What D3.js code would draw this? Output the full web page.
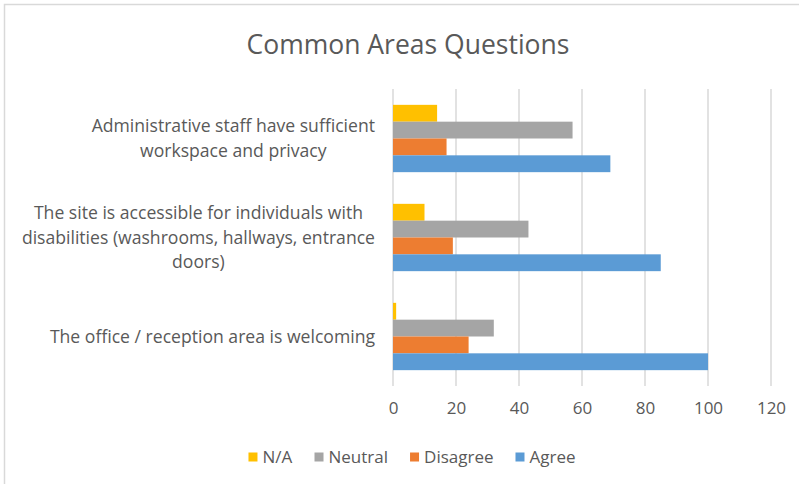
<!DOCTYPE html>
<html>
<head>
<meta charset="utf-8">
<script src="https://cdn.jsdelivr.net/npm/d3@7"></script>
<style>
  body { margin: 0; background: #fff; }
  svg { display: block; }
</style>
</head>
<body>
<svg id="chart"></svg>
<script>
// data
const categories = [
  "Administrative staff have sufficient workspace and privacy",
  "The site is accessible for individuals with disabilities (washrooms, hallways, entrance doors)",
  "The office / reception area is welcoming"
];
// how each label wraps in the reference
const labelLines = [
  ["Administrative staff have sufficient", "workspace and privacy"],
  ["The site is accessible for individuals with", "disabilities (washrooms, hallways, entrance", "doors)"],
  ["The office / reception area is welcoming"]
];
const seriesNames = ["N/A", "Neutral", "Disagree", "Agree"];
const naValues       = [14, 10, 1];
const neutralValues  = [57, 43, 32];
const disagreeValues = [17, 19, 24];
const agreeValues    = [69, 85, 100];
const xTicks = [0, 20, 40, 60, 80, 100, 120];

const seriesValues = [naValues, neutralValues, disagreeValues, agreeValues];
const colors = ["#FFC000", "#A5A5A5", "#ED7D31", "#5B9BD5"];

const w = 799, h = 484;
const textColor = "#595959";
const font = "'Open Sans', sans-serif";
const plot = { left: 393, right: 771, top: 89, bottom: 386 };

const svg = d3.select("#chart").attr("width", w).attr("height", h);

// chart frame (only top / left edges visible in the reference)
svg.append("rect")
  .attr("x", 4.5).attr("y", 4.5)
  .attr("width", w + 10).attr("height", h + 10)
  .attr("fill", "#fff")
  .attr("stroke", "#d9d9d9")
  .attr("stroke-width", 1.5);

const x = d3.scaleLinear().domain([0, 120]).range([plot.left, plot.right]);

const y0 = d3.scaleBand()
  .domain(categories)
  .range([plot.top, plot.bottom])
  .paddingInner(0.32)
  .paddingOuter(0.16);

const y1 = d3.scaleBand()
  .domain(seriesNames)
  .range([0, y0.bandwidth()]);

// title
svg.append("text")
  .attr("x", 408).attr("y", 45)
  .attr("dy", "0.35em")
  .attr("text-anchor", "middle")
  .attr("font-family", font)
  .attr("font-size", "26.5px")
  .attr("fill", textColor)
  .text("Common Areas Questions");

// gridlines
svg.append("g")
  .selectAll("line")
  .data(xTicks)
  .join("line")
  .attr("x1", d => x(d)).attr("x2", d => x(d))
  .attr("y1", plot.top).attr("y2", plot.bottom)
  .attr("stroke", "#d9d9d9")
  .attr("stroke-width", 1.5);

// x axis tick labels
const xAxis = svg.append("g")
  .attr("transform", `translate(0,${plot.bottom})`)
  .call(d3.axisBottom(x).tickValues(xTicks).tickSize(0).tickPadding(16));
xAxis.select(".domain").remove();
xAxis.selectAll("text")
  .attr("font-family", font)
  .attr("font-size", "17px")
  .attr("fill", textColor);

// bars
const groups = svg.append("g")
  .selectAll("g")
  .data(categories)
  .join("g")
  .attr("transform", d => `translate(0,${y0(d)})`);

groups.selectAll("rect")
  .data((c, ci) => seriesNames.map((s, si) => ({ s, v: seriesValues[si][ci], color: colors[si] })))
  .join("rect")
  .attr("x", x(0))
  .attr("y", d => y1(d.s))
  .attr("width", d => x(d.v) - x(0))
  .attr("height", y1.bandwidth())
  .attr("fill", d => d.color);

// category labels, wrapped lines centred as a block right of the plot
const labelRight = 375, lineHeight = 24.5;
categories.forEach((c, ci) => {
  const lines = labelLines[ci];
  const cy = y0(c) + y0.bandwidth() / 2;
  const t = svg.append("text")
    .attr("font-family", font)
    .attr("font-size", "17.6px")
    .attr("fill", textColor)
    .attr("text-anchor", "middle");
  const spans = lines.map((l, li) =>
    t.append("tspan")
      .attr("y", cy + (li - (lines.length - 1) / 2) * lineHeight)
      .attr("dy", "0.35em")
      .text(l));
  const maxW = d3.max(spans, s => s.node().getComputedTextLength());
  spans.forEach(s => s.attr("x", labelRight - maxW / 2));
});

// legend
const legend = svg.append("g").attr("transform", "translate(0,457)");
const items = legend.selectAll("g").data(seriesNames).join("g");
items.append("rect")
  .attr("width", 9).attr("height", 9)
  .attr("y", -4.5)
  .attr("fill", (d, i) => colors[i]);
items.append("text")
  .attr("x", 14)
  .attr("dy", "0.35em")
  .attr("font-family", font)
  .attr("font-size", "17px")
  .attr("fill", textColor)
  .text(d => d);
let cursor = 0;
const offsets = [];
items.each(function () {
  offsets.push(cursor);
  cursor += this.getBBox().width + 22;
});
const totalW = cursor - 22;
const legendStart = 412 - totalW / 2;
items.attr("transform", (d, i) => `translate(${legendStart + offsets[i]},0)`);
</script>
</body>
</html>
